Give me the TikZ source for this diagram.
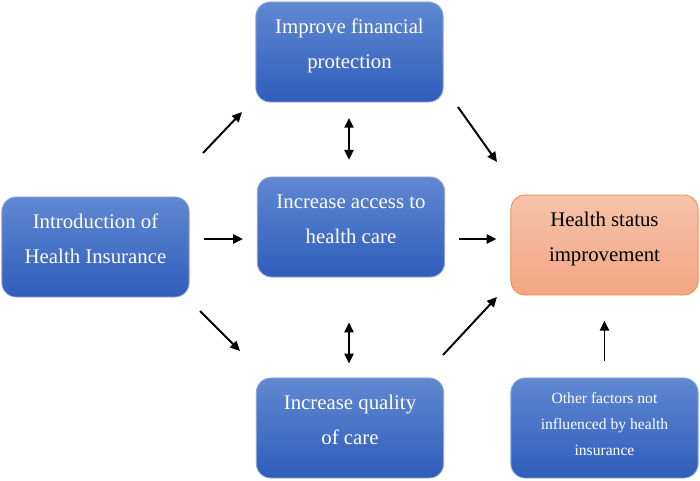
\documentclass[tikz,border=0pt]{standalone}
\usepackage{fontspec}
\setmainfont{Liberation Serif}
\usetikzlibrary{arrows.meta}
\definecolor{boxtop}{HTML}{6088D2}
\definecolor{boxbot}{HTML}{2E5DBA}
\definecolor{boxline}{HTML}{8AA6DA}
\definecolor{outtop}{HTML}{F6C3AA}
\definecolor{outbot}{HTML}{F3A582}
\definecolor{outline}{HTML}{EE8C55}
\tikzset{
	box/.style={rectangle, rounded corners=0.36cm, draw=boxline, line width=0.6pt,
		top color=boxtop, bottom color=boxbot, text=white, align=center,
		minimum width=4.68cm, minimum height=2.5cm, inner sep=2pt,
		text height=35.3pt, text depth=11.5pt,
		font=\fontsize{14.8}{25}\selectfont},
	smallbox/.style={box, text height=44.8pt, text depth=6pt,
		font=\fontsize{11.1}{18.5}\selectfont},
	outbox/.style={box, draw=outline, top color=outtop, bottom color=outbot, text=black},
	arr/.style={-{Triangle[length=7pt,width=6.5pt]}, line width=1.4pt},
	darr/.style={{Triangle[length=7pt,width=6.5pt]}-{Triangle[length=7pt,width=6.5pt]}, line width=1.4pt}
}
\begin{document}
\begin{tikzpicture}[x=0.025cm, y=-0.025cm]
		\useasboundingbox (0,0) rectangle (700,481);
		\node[box] (intro) at (95.5,247) {Introduction of\\Health Insurance};
		\node[box] (protect) at (349.5,52) {Improve financial\\protection};
		\node[box] (access) at (351,227) {Increase access to\\health care};
		\node[box] (quality) at (350,428) {Increase quality\\of care};
		\node[outbox] (status) at (604.5,245) {Health status\\improvement};
		\node[smallbox] (other) at (604.5,428) {Other factors not\\influenced by health\\insurance};
		%
		\coordinate (ip1) at (203,153);
		\coordinate (ip2) at (242,112);
		\coordinate (iq1) at (200,311);
		\coordinate (iq2) at (240,351);
		\coordinate (ps1) at (458,107);
		\coordinate (ps2) at (497,162);
		\coordinate (qs1) at (443,355);
		\coordinate (qs2) at (497,297);
		%
		\draw [arr] (ip1) -- (ip2);
		\draw [arr, shorten <=10pt, shorten >=10pt] (intro.east |- 0,239) -- (access.west |- 0,239);
		\draw [arr] (iq1) -- (iq2);
		\draw [darr, shorten <=11pt, shorten >=12pt] (protect.south -| 349,0) -- (access.north -| 349,0);
		\draw [darr, shorten <=32pt, shorten >=10pt] (access.south -| 349,0) -- (quality.north -| 349,0);
		\draw [arr] (ps1) -- (ps2);
		\draw [arr, shorten <=10pt, shorten >=10pt] (access.east |- 0,239) -- (status.west |- 0,239);
		\draw [arr] (qs1) -- (qs2);
		\draw [arr, shorten <=12pt, shorten >=18pt] (other.north) -- (status.south);
	\end{tikzpicture}
\end{document}
